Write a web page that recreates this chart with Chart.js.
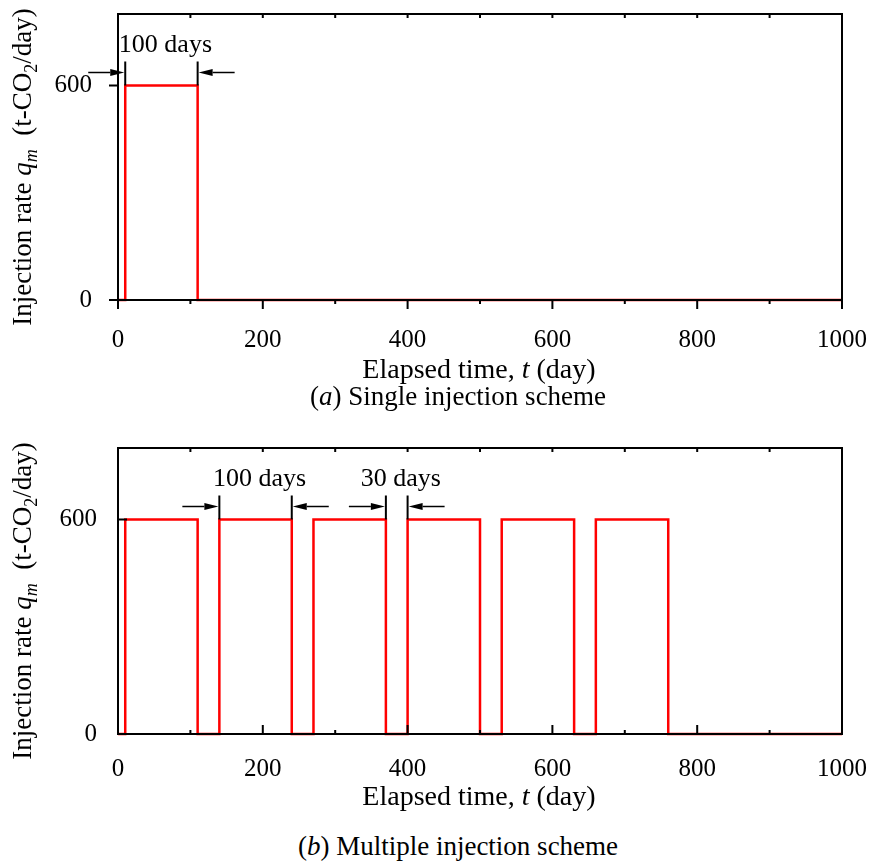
<!DOCTYPE html>
<html>
<head>
<meta charset="utf-8">
<script src="https://cdn.jsdelivr.net/npm/chart.js@4"></script>
<style>
  html, body { margin: 0; padding: 0; background: #fff; }
  body { width: 869px; height: 866px; position: relative; overflow: hidden; color: #000; }
  .panel { position: absolute; left: 0; width: 869px; height: 360px; }
  .txt { position: absolute; font-family: "Liberation Serif"; font-size: 27px; line-height: 30px; white-space: nowrap; }
  .xt { left: 229px; width: 500px; text-align: center; font-size: 28px; }
  .cap { left: 158px; width: 600px; text-align: center; }
  .yt { width: 400px; text-align: center; transform: rotate(-90deg); transform-origin: 50% 50%; }
  .sub { font-size: 18px; vertical-align: -6px; line-height: 0; }
</style>
</head>
<body>
<div class="panel" style="top:0"><canvas id="chartSingle" width="869" height="360"></canvas></div>
<div class="panel" style="top:434px"><canvas id="chartMulti" width="869" height="360"></canvas></div>

<div class="txt yt" style="left:-178px; top:152px">Injection rate <i>q<span class="sub">m</span></i>&nbsp; (t-CO<span class="sub">2</span>/day)</div>
<div class="txt xt" style="top:354px">Elapsed time, <i>t</i> (day)</div>
<div class="txt cap" style="top:381px">(<i>a</i>) Single injection scheme</div>

<div class="txt yt" style="left:-178px; top:586px">Injection rate <i>q<span class="sub">m</span></i>&nbsp; (t-CO<span class="sub">2</span>/day)</div>
<div class="txt xt" style="top:781px">Elapsed time, <i>t</i> (day)</div>
<div class="txt cap" style="top:831px">(<i>b</i>) Multiple injection scheme</div>

<script>
// ── Data ──────────────────────────────────────────────────────────────────
const xTicks      = [0, 200, 400, 600, 800, 1000];
const xMinorTicks = [100, 300, 500, 700, 900];
const yTicks      = [0, 600];

const injectionRate = 600;               // t-CO2/day while injecting

// (a) single injection: one 100-day pulse
const singleStart = [10];
const singleEnd   = [110];

// (b) multiple injection: 100 days on, 30 days off
const multiStart  = [10, 140, 270, 400, 530, 660];
const multiEnd    = [110, 240, 370, 500, 630, 760];

// duration brackets drawn above the pulses
const singleNotes = [{ from: 10,  to: 110, label: '100 days' }];
const multiNotes  = [
    { from: 140, to: 240, label: '100 days' },
    { from: 370, to: 400, label: '30 days' },
];

(function () {
    'use strict';

    const FONT = '"Liberation Serif"';
    Chart.defaults.font.family = FONT;
    Chart.defaults.color = '#000';

    // pulse start/end lists -> step outline points
    function buildSteps(starts, ends) {
        const pts = [{ x: 0, y: 0 }];
        starts.forEach((s, i) => {
            pts.push({ x: s, y: 0 }, { x: s, y: injectionRate },
                     { x: ends[i], y: injectionRate }, { x: ends[i], y: 0 });
        });
        pts.push({ x: 1000, y: 0 });
        return pts;
    }

    function arrow(ctx, xTip, y, dir) {
        // dir = +1 points right, -1 points left
        const len = 36, head = 14, half = 3.5;
        ctx.beginPath();
        ctx.moveTo(xTip - dir * len, y);
        ctx.lineTo(xTip - dir * head, y);
        ctx.lineWidth = 1.5;
        ctx.stroke();
        ctx.beginPath();
        ctx.moveTo(xTip, y);
        ctx.lineTo(xTip - dir * head, y - half);
        ctx.lineTo(xTip - dir * head, y + half);
        ctx.closePath();
        ctx.fill();
    }

    // ── Frame, tick marks and duration brackets ─────────────────────────────
    const framePlugin = {
        id: 'frame',
        afterDatasetsDraw(chart, args, opts) {
            const { ctx, chartArea: a, scales: { x, y } } = chart;
            const dir = opts.inward ? -1 : 1;   // +1 outward, -1 inward
            ctx.save();
            ctx.strokeStyle = '#000';
            ctx.fillStyle = '#000';
            ctx.lineWidth = 2;
            ctx.strokeRect(a.left, a.top, a.right - a.left, a.bottom - a.top);

            ctx.beginPath();
            xTicks.forEach(v => {
                const px = x.getPixelForValue(v);
                ctx.moveTo(px, a.bottom);
                ctx.lineTo(px, a.bottom + dir * 9);
            });
            xMinorTicks.forEach(v => {
                const px = x.getPixelForValue(v);
                ctx.moveTo(px, a.bottom);
                ctx.lineTo(px, a.bottom + dir * 4);
            });
            xTicks.concat(xMinorTicks).forEach(v => {
                const px = x.getPixelForValue(v);
                ctx.moveTo(px, a.top);
                ctx.lineTo(px, a.top + 4);
            });
            yTicks.forEach(v => {
                const py = y.getPixelForValue(v);
                ctx.moveTo(a.left, py);
                ctx.lineTo(a.left - dir * 9, py);
            });
            ctx.stroke();

            const y600 = y.getPixelForValue(injectionRate);
            (opts.notes || []).forEach(n => {
                const x1 = x.getPixelForValue(n.from);
                const x2 = x.getPixelForValue(n.to);
                ctx.lineWidth = 2;
                ctx.beginPath();
                ctx.moveTo(x1, y600); ctx.lineTo(x1, y600 - 24);
                ctx.moveTo(x2, y600); ctx.lineTo(x2, y600 - 24);
                ctx.stroke();
                arrow(ctx, x1 - 1, y600 - 13, 1);
                arrow(ctx, x2 + 1, y600 - 13, -1);
                ctx.font = '26px ' + FONT;
                ctx.textAlign = 'center';
                ctx.textBaseline = 'middle';
                ctx.fillText(n.label, (x1 + x2) / 2 + 4, y600 - 40);
            });
            ctx.restore();
        },
    };

    function makeChart(id, starts, ends, notes, inward) {
        const canvas = document.getElementById(id);
        if (!canvas) return;

        new Chart(canvas, {
            type: 'line',
            data: {
                datasets: [{
                    data        : buildSteps(starts, ends),
                    borderColor : '#ff0000',
                    borderWidth : 2.5,
                    pointRadius : 0,
                    tension     : 0,
                    clip        : false,
                }],
            },
            options: {
                responsive: false,
                animation : false,
                events    : [],
                layout    : { padding: { top: 14, right: 27, left: 0, bottom: 0 } },
                plugins: {
                    legend : { display: false },
                    tooltip: { enabled: false },
                    frame  : { notes, inward },
                },
                scales: {
                    x: {
                        type: 'linear',
                        min : 0,
                        max : 1000,
                        grid  : { display: false },
                        border: { display: false },
                        afterBuildTicks: s => { s.ticks = xTicks.map(v => ({ value: v })); },
                        afterFit: s => { s.height = 60; s.paddingLeft = 0; s.paddingRight = 0; },
                        ticks: {
                            font: { size: 25 },
                            color: '#000',
                            padding: inward ? 12 : 17,
                            maxRotation: 0,
                            callback: v => String(v),
                        },
                    },
                    y: {
                        min: 0,
                        max: 800,
                        grid  : { display: false },
                        border: { display: false },
                        afterBuildTicks: s => { s.ticks = yTicks.map(v => ({ value: v })); },
                        afterFit: s => { s.width = 118; s.paddingTop = 0; s.paddingBottom = 0; },
                        ticks: {
                            font: { size: 25 },
                            color: '#000',
                            padding: inward ? 13 : 18,
                            callback: v => String(v),
                        },
                    },
                },
            },
            plugins: [framePlugin],
        });
    }

    function init() {
        if (typeof Chart === 'undefined') {
            console.warn('Chart.js not loaded.');
            return;
        }
        makeChart('chartSingle', singleStart, singleEnd, singleNotes, false);
        makeChart('chartMulti',  multiStart,  multiEnd,  multiNotes,  true);
    }

    init();
})();
</script>
</body>
</html>
